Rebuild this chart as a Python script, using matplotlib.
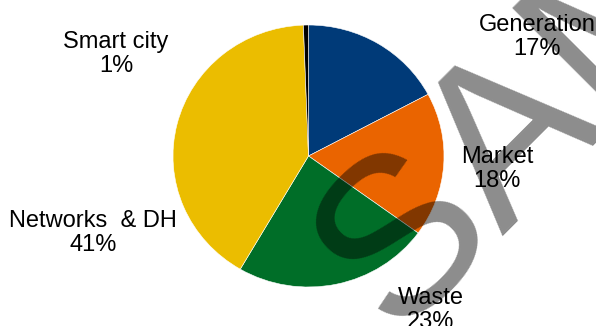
import matplotlib.pyplot as plt
from matplotlib.transforms import IdentityTransform

# data
labels = ["Generation", "Market", "Waste", "Networks  & DH", "Smart city"]
shares = [17.2, 17.8, 23.4, 41.0, 0.6]
colors = ["#003a78", "#ea6400", "#006e28", "#ebbd00", "#000000"]

# label centres in pixels (y from bottom)
label_pos = [(537, 289), (497, 157), (431, 16), (93, 93), (116, 272)]

plt.rcParams['font.family'] = ['Liberation Sans', 'DejaVu Sans']

fig = plt.figure(figsize=(5.96, 3.26), dpi=100)
ax = fig.add_axes([0, 0, 1, 1])

# pie is a little wider than tall in the original
k = 135.5 / 131
ax.pie(shares, colors=colors, startangle=90, counterclock=False,
       center=(308.5, (326 - 156) * k), radius=135.5,
       wedgeprops=dict(edgecolor="white", linewidth=0.4))

ax.set_xlim(0, 596)
ax.set_ylim(0, 326 * k)
ax.set_aspect('auto')
ax.axis('off')

px = IdentityTransform()
for name, val, (x, y) in zip(labels, shares, label_pos):
    ax.text(x, y, f"{name}\n{round(val)}%", ha="center", va="center",
            fontsize=17, linespacing=1.1, zorder=10, transform=px)

# watermark
ax.text(394, -9, "SAMPLE", rotation=45, rotation_mode="anchor",
        ha="left", va="baseline", fontsize=162, color="black", alpha=0.45,
        zorder=5, clip_on=False, transform=px)

fig.savefig("out.png", dpi=100)
